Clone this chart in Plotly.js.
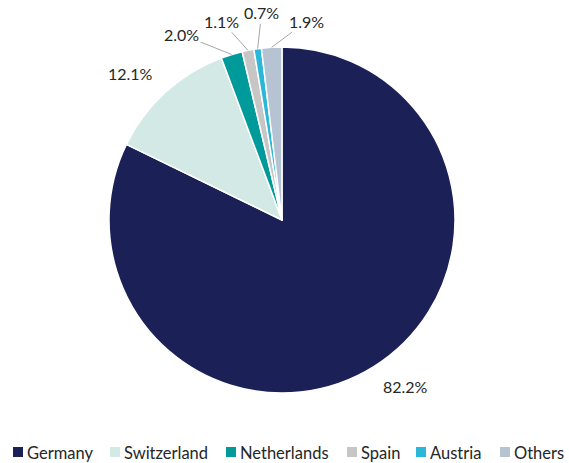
<!DOCTYPE html>
<html><head><meta charset="utf-8">
<script src="https://cdn.plot.ly/plotly-3.0.1.min.js"></script>
<style>html,body{margin:0;padding:0;background:#fff;}#chart{width:569px;height:463px;}</style>
</head><body><div id="chart"></div>
<script>
const countries = ["Germany","Switzerland","Netherlands","Spain","Austria","Others"];
const shares = [82.2, 12.1, 2.0, 1.1, 0.7, 1.9];
const colors = ["#1b2157","#d3e9e5","#009a9b","#c6c6c6","#2bb7d8","#b5c3d3"];
// label placement (pixel offsets from the slice's outer edge midpoint) and leader-line flags
const labelOffsets = [[32,20],[-35,-19],[-50,-20],[-26,-29],[4,-36],[35,-26]];
const leader = [false,false,true,true,true,true];
// legend key left edges (px)
const legendX = [13, 110, 226, 347, 416, 500];

const W = 569, H = 463;
const cx = 282, cy = 220, R = 173;
const dom = {x:[(cx-R)/W,(cx+R)/W], y:[1-(cy+R)/H, 1-(cy-R)/H]};
const FONT = 'Lato, "Liberation Sans", sans-serif';

const total = shares.reduce((a,b)=>a+b,0);
let cum = 0;
const annotations = shares.map((v,i)=>{
  const mid = (cum + v/2)/total*2*Math.PI; cum += v;
  const ex = cx + R*Math.sin(mid), ey = cy - R*Math.cos(mid);
  const [dx,dy] = labelOffsets[i];
  const base = {xref:'paper', yref:'paper', text: v.toFixed(1)+'%',
    font:{family:FONT, size:16, color:'#262626'}};
  if (leader[i]) {
    return Object.assign(base,{x:ex/W, y:1-ey/H, showarrow:true, arrowhead:0, arrowwidth:1,
      arrowcolor:'#a6a6a6', ax:dx, ay:dy, axref:'pixel', ayref:'pixel', standoff:0, startstandoff:0});
  }
  return Object.assign(base,{x:(ex+dx)/W, y:1-(ey+dy)/H, xanchor:'center', yanchor:'middle', showarrow:false});
});

// legend drawn as keys + text
const legendTop = 447;
const shapes = [];
countries.forEach((c,i)=>{
  const x0 = legendX[i];
  shapes.push({type:'rect', xref:'paper', yref:'paper', x0:x0/W, x1:(x0+10)/W,
    y0:1-(legendTop+10)/H, y1:1-legendTop/H, fillcolor:colors[i], line:{width:0}});
  annotations.push({xref:'paper', yref:'paper', x:(x0+12)/W, y:1-(legendTop+6)/H, xanchor:'left', yanchor:'middle',
    showarrow:false, text:c, font:{family:FONT, size:16.5, color:'#262626'}});
});

const trace = {type:'pie', labels:countries, values:shares, sort:false, direction:'clockwise', rotation:0,
  marker:{colors:colors, line:{color:'#ffffff', width:1.5}}, textinfo:'none', hoverinfo:'label+percent',
  domain:dom};

const layout = {width:W, height:H, margin:{l:0,r:0,t:0,b:0}, paper_bgcolor:'#fff',
  showlegend:false, shapes:shapes, annotations:annotations};

Plotly.newPlot('chart',[trace],layout,{displayModeBar:false, staticPlot:true});
</script></body></html>
